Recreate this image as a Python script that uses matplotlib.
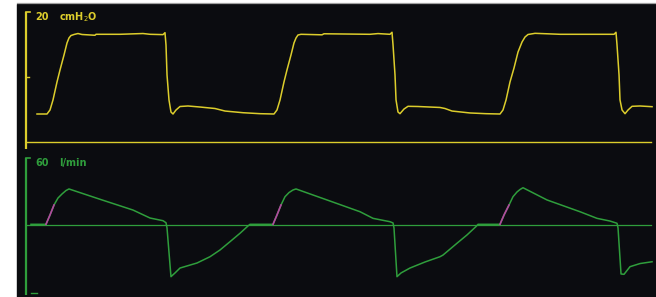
import matplotlib

matplotlib.use("Agg")
import matplotlib.pyplot as plt
import numpy as np
from matplotlib.patches import Rectangle
from matplotlib.lines import Line2D

# ventilator screen: airway pressure and flow, 3 breaths (time in s)
PRESSURE_T = [
    0.195, 0.372, 0.425, 0.478, 0.549, 0.602, 0.673, 0.726, 0.761, 0.796,
    0.850, 0.920, 0.991, 1.221, 1.239, 1.664, 2.071, 2.195, 2.425, 2.460,
    2.478, 2.496, 2.531, 2.566, 2.602, 2.655, 2.726, 2.867, 3.080, 3.345,
    3.522, 3.841, 4.142, 4.389,
    4.442, 4.496, 4.566, 4.619, 4.690, 4.743, 4.779, 4.814, 4.867, 5.239,
    5.274, 6.088, 6.230, 6.442, 6.478, 6.496, 6.531, 6.549, 6.584, 6.619,
    6.690, 6.761, 6.938, 7.327,
    7.416, 7.540, 7.858, 8.142, 8.389, 8.442, 8.496, 8.566, 8.637, 8.708,
    8.779, 8.832, 8.885, 9.009, 9.221, 9.451, 10.159, 10.407, 10.442, 10.460,
    10.496, 10.513, 10.549, 10.602, 10.655, 10.726, 10.867, 11.080,
]
PRESSURE = [
    4.28, 4.28, 4.90, 6.45, 9.23, 11.08, 13.40, 15.26, 16.03, 16.41,
    16.57, 16.72, 16.57, 16.45, 16.60, 16.60, 16.72, 16.60, 16.55, 16.85,
    14.95, 10.31, 6.45, 4.59, 4.28, 4.90, 5.44, 5.52, 5.36, 5.13,
    4.74, 4.48, 4.33, 4.28,
    4.90, 6.45, 9.23, 11.08, 13.40, 15.26, 16.03, 16.49, 16.60, 16.52,
    16.68, 16.60, 16.71, 16.60, 16.91, 14.95, 10.31, 6.45, 4.59, 4.33,
    5.05, 5.47, 5.44, 5.29,
    5.13, 4.74, 4.44, 4.33, 4.28, 4.90, 6.45, 9.23, 11.39, 13.86,
    15.41, 16.18, 16.57, 16.75, 16.68, 16.60, 16.60, 16.60, 16.91, 14.95,
    10.31, 6.45, 4.90, 4.33, 4.90, 5.47, 5.52, 5.41,
]

FLOW_T = [
    0.088, 0.354, 0.425, 0.496, 0.566, 0.637, 0.708, 0.761, 1.310, 1.894,
    2.195, 2.425, 2.478, 2.496, 2.566, 2.637, 2.726, 3.027, 3.257, 3.434,
    3.611, 3.788, 3.929, 3.965,
    4.372, 4.442, 4.513, 4.584, 4.655, 4.726, 4.779, 5.327, 5.912, 6.142,
    6.442, 6.496, 6.513, 6.566, 6.637, 6.796, 7.062, 7.327, 7.381, 7.628,
    7.805, 7.965, 8.000,
    8.389, 8.460, 8.549, 8.619, 8.690, 8.743, 8.796, 9.221, 9.805, 10.106,
    10.336, 10.460, 10.478, 10.531, 10.584, 10.690, 10.867, 11.080,
]
FLOW = [
    0.89, 0.89, 9.18, 18.1, 24.3, 27.9, 31.0, 32.4, 23.2, 13.6,
    6.5, 4.1, 2.3, -2.4, -45.8, -42.5, -38.1, -33.6, -28.0, -22.0,
    -14.6, -7.1, -0.6, 0.89,
    0.89, 9.18, 18.1, 25.5, 29.2, 31.5, 32.4, 22.6, 12.1, 6.2,
    3.2, 2.1, -2.4, -45.8, -42.5, -38.1, -32.7, -28.0, -26.5, -16.0,
    -8.6, -1.1, 0.89,
    0.89, 9.18, 18.1, 25.5, 29.7, 31.9, 33.5, 22.6, 12.1, 6.2,
    3.8, 1.8, -2.4, -43.4, -43.7, -36.9, -34.1, -32.5,
]

# patient-triggered start of each breath (drawn in magenta)
TRIGGER_START = [0.354, 4.372, 8.389]
TRIGGER_END = [0.496, 4.513, 8.549]

P_LABEL = ("20", "cmH$_2$O")
F_LABEL = ("60", "l/min")
P_MAX, F_MAX = 20, 60
T_END = 11.07

YELLOW = "#dccd2c"
GREEN = "#2f9e3c"
MAGENTA = "#b2479f"
SCREEN = "#0b0c10"

W, H = 656, 297
fig = plt.figure(figsize=(W / 100, H / 100), dpi=100, facecolor="white")

left = 17 / W
fig.patches.append(Rectangle((left, 0), 1 - left, (H - 3.7) / H,
                             transform=fig.transFigure, color=SCREEN, zorder=-5))
fig.lines.append(Line2D([left, 1], [(H - 3) / H] * 2, transform=fig.transFigure,
                        color="#a0a0a0", lw=0.9, zorder=-4))

xlim = (-0.159, 11.15)
ax_p = fig.add_axes([left, (H - 150) / H, 1 - left, 145 / H])
ax_f = fig.add_axes([left, 0, 1 - left, 145 / H])
ax_p.set_xlim(*xlim)
ax_f.set_xlim(*xlim)
ax_p.set_ylim(-1.283, 21.128)
ax_f.set_ylim(-63.92, 65.35)

font = dict(family=["Liberation Sans Narrow", "DejaVu Sans"], fontsize=7,
            fontweight="bold", va="center", ha="left")

for ax in (ax_p, ax_f):
    ax.axis("off")
    ax.patch.set_alpha(0)

# pressure panel
ax_p.plot([0, 0], [-1.15, P_MAX], color=YELLOW, lw=1.6, clip_on=False,
          solid_capstyle="butt")
ax_p.plot([0, 0.071], [P_MAX, P_MAX], color=YELLOW, lw=1.2, clip_on=False)
ax_p.plot([0, 0.053], [P_MAX / 2, P_MAX / 2], color=YELLOW, lw=1.0)
ax_p.plot([0, T_END], [0, 0], color=YELLOW, lw=1.0)
ax_p.plot(PRESSURE_T, PRESSURE, color=YELLOW, lw=1.1)
ax_p.text(0.172, 19.23, P_LABEL[0], color=YELLOW, **font)
ax_p.text(0.584, 19.23, P_LABEL[1], color=YELLOW, **font)

# flow panel
ax_f.plot([0, 0], [-62.1, F_MAX], color=GREEN, lw=1.6, clip_on=False,
          solid_capstyle="butt")
ax_f.plot([0, 0.071], [F_MAX, F_MAX], color=GREEN, lw=1.2)
ax_f.plot([0.088, 0.195], [-F_MAX, -F_MAX], color=GREEN, lw=1.0)
ax_f.plot([0, T_END], [0, 0], color=GREEN, lw=0.9)
ft = np.array(FLOW_T)
fv = np.array(FLOW)
ax_f.plot(ft, fv, color=GREEN, lw=1.1)
for s, e in zip(TRIGGER_START, TRIGGER_END):
    m = (ft >= s - 1e-9) & (ft <= e + 1e-9)
    ax_f.plot(ft[m], fv[m], color=MAGENTA, lw=1.2)
ax_f.text(0.172, 55.8, F_LABEL[0], color=GREEN, **font)
ax_f.text(0.584, 55.8, F_LABEL[1], color=GREEN, **font)

fig.savefig("out.png", dpi=100, facecolor=fig.get_facecolor())
